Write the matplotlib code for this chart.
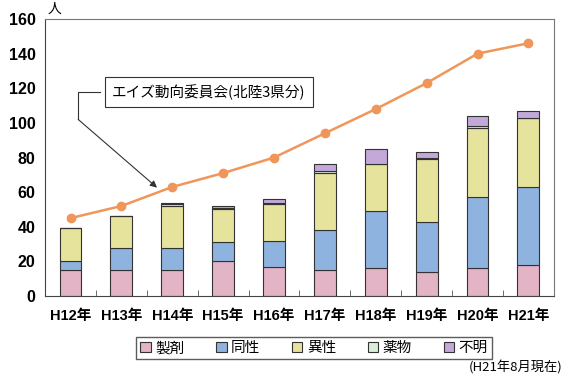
import matplotlib.pyplot as plt
import numpy as np

plt.rcParams['font.family'] = ['Noto Sans CJK JP', 'DejaVu Sans']

years = ["H12年", "H13年", "H14年", "H15年", "H16年",
         "H17年", "H18年", "H19年", "H20年", "H21年"]
seizai = [15, 15, 15, 20, 17, 15, 16, 14, 16, 18]
dousei = [5, 13, 13, 11, 15, 23, 33, 29, 41, 45]
isei = [19, 18, 24, 19, 21, 33, 27, 36, 40, 40]
yakubutsu = [0, 0, 1, 1, 1, 1, 0, 1, 1, 0]
fumei = [0, 0, 1, 1, 2, 4, 9, 3, 6, 4]
hokuriku = [45, 52, 63, 71, 80, 94, 108, 123, 140, 146]

series = [("製剤", seizai, "#e3b3c6"),
          ("同性", dousei, "#8fb3df"),
          ("異性", isei, "#e6e49c"),
          ("薬物", yakubutsu, "#d9eedb"),
          ("不明", fumei, "#c3a9da")]

tick_font = ['Liberation Sans', 'Noto Sans CJK JP']

fig = plt.figure(figsize=(5.64, 3.80), dpi=100)
ax = fig.add_axes([0.080, 0.221, 0.902, 0.729])

x = np.arange(len(years))
bottom = np.zeros(len(years))
handles = []
for name, vals, col in series:
    h = ax.bar(x, vals, 0.43, bottom=bottom, color=col, edgecolor="#333333",
               linewidth=0.8, label=name, zorder=2)
    handles.append(h)
    bottom += np.array(vals)

ax.plot(x, hokuriku, color="#f0965a", lw=1.8, marker="o", ms=6,
        mfc="#f0965a", mec="#f0965a", zorder=3)

ax.set_xlim(-0.5, len(years) - 0.5)
ax.set_ylim(0, 160)
ax.set_yticks(range(0, 161, 20))
ax.set_yticklabels([str(v) for v in range(0, 161, 20)], fontsize=11.5,
                   fontweight="bold", family=tick_font)
ax.tick_params(axis="y", length=0, pad=7)
ax.set_xticks(x)
ax.set_xticklabels(years, fontsize=10.5, fontweight="bold", family=tick_font)
ax.tick_params(axis="x", length=0, pad=9)
ax.set_xticks(np.arange(0.5, len(years) - 1, 1), minor=True)
ax.tick_params(axis="x", which="minor", direction="in", length=4,
               color="#555555")
for s in ["left", "bottom"]:
    ax.spines[s].set_color("#444444")
for s in ["top", "right"]:
    ax.spines[s].set_color("#777777")

ax.text(-0.45, 162, "人", fontsize=10, ha="left", va="bottom")

# callout for the line series
ax.text(2.72, 117.7, "エイズ動向委員会(北陸3県分)", fontsize=10.5, ha="center",
        va="center", zorder=4,
        bbox=dict(boxstyle="square,pad=0.5", fc="white", ec="#333333", lw=0.8))
ax.plot([0.58, 0.15, 0.15], [117.7, 117.7, 102], color="#333333", lw=0.8,
        zorder=3)
ax.annotate("", xy=(1.70, 62.6), xytext=(0.15, 102),
            arrowprops=dict(arrowstyle="-|>", color="#333333", lw=0.8,
                            mutation_scale=10, shrinkA=0, shrinkB=0))

fig.legend(handles=handles, loc="center", bbox_to_anchor=(0.557, 0.084),
           ncol=5, fontsize=10.5, frameon=True, fancybox=False,
           edgecolor="#333333", handlelength=0.7, handleheight=0.7,
           handletextpad=0.3, columnspacing=2.2, borderpad=0.3)

fig.text(0.998, 0.015, "(H21年8月現在)", fontsize=9.5, ha="right", va="bottom")

fig.savefig("out.png", dpi=100)
